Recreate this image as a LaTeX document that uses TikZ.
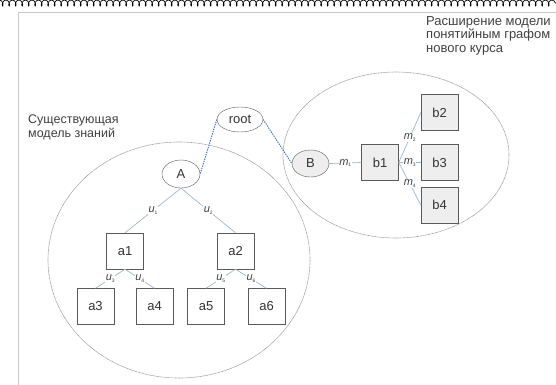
\documentclass[tikz,border=0pt]{standalone}
\usepackage{fontspec}
\setmainfont{Liberation Sans}
\usetikzlibrary{shapes.geometric,decorations.pathmorphing}

\definecolor{nodegray}{HTML}{5A5A5A}
\definecolor{areagray}{HTML}{9A9A9A}
\definecolor{framegray}{HTML}{C8C8C8}
\definecolor{linkblue}{HTML}{9DB7CE}
\definecolor{dotblue}{HTML}{4272B4}
\definecolor{shade}{HTML}{EEEEEE}

\newcommand{\wlabel}[2]{\textit{#1}{\fontsize{5}{5}\selectfont\raisebox{-1.5pt}{#2}}}

\tikzset{
  box/.style={rectangle,draw=nodegray,fill=white,minimum width=37pt,minimum height=36pt,inner sep=0pt},
  oval/.style={ellipse,draw=nodegray,fill=white,inner sep=0pt},
  link/.style={draw=linkblue,line width=0.7pt},
  weight/.style={fill=white,inner sep=0.6pt,font=\fontsize{11}{11}\selectfont,text=black!75},
  bridge/.style={draw=dotblue,line width=1pt,dash pattern=on 1.3pt off 1.1pt},
  area/.style={draw=areagray,line width=0.6pt,dash pattern=on 0.9pt off 0.5pt},
  caption/.style={anchor=north west,align=left,inner sep=0pt,font=\fontsize{12.5}{13.5}\selectfont,text=black!75}
}

\begin{document}
\begin{tikzpicture}[x=1pt,y=-1pt]
  \useasboundingbox (0,0) rectangle (556,384);
  \clip (0,0) rectangle (556,384);

  % page edge and frame
  \draw[decorate,decoration={coil,aspect=0.6,segment length=6.5pt,amplitude=3pt},line width=0.7pt] (-4,3) -- (560,3);
  \draw[framegray,line width=0.8pt] (18,390) -- (18,12) -- (560,12);

  % the two regions
  \draw[area] (179,260) ellipse [x radius=131, y radius=118];
  \draw[area] (396,155) ellipse [x radius=113, y radius=83];

  \node[caption] (known) at (28,115) {Существующая\\модель знаний};
  \node[caption,font=\fontsize{13}{13.5}\selectfont] (ext) at (426,16) {Расширение модели\\понятийным графом\\нового курса};

  \begin{scope}[every node/.style={font=\fontsize{13}{13}\selectfont,text=black!80}]
    \node[oval,minimum width=46pt,minimum height=25pt] (root) at (240,119.5) {root};
    \node[oval,minimum width=38pt,minimum height=28pt] (A) at (181,174) {A};
    \node[oval,fill=shade,minimum width=37pt,minimum height=27pt] (B) at (310.5,163.5) {B};

    \node[box] (a1) at (125,251) {a1};
    \node[box] (a2) at (235.5,251) {a2};
    \node[box] (a3) at (95.5,306.5) {a3};
    \node[box] (a4) at (154.5,306.5) {a4};
    \node[box] (a5) at (206,306.5) {a5};
    \node[box] (a6) at (266.5,306.5) {a6};

    \node[box,fill=shade] (b1) at (380,162.5) {b1};
    \node[box,fill=shade] (b2) at (439.5,112.5) {b2};
    \node[box,fill=shade] (b3) at (439.5,162.5) {b3};
    \node[box,fill=shade] (b4) at (439.5,205) {b4};
  \end{scope}

  \draw[bridge] (root.west) -- (A.east);
  \draw[bridge] (root.east) -- (B.west);

  \begin{scope}[every node/.style={weight}]
    \path (A.south)  edge[link] node {\wlabel{u}{1}} (a1.north);
    \path (A.south)  edge[link] node {\wlabel{u}{2}} (a2.north);
    \path (a1.south) edge[link] node {\wlabel{u}{3}} (a3.north);
    \path (a1.south) edge[link] node {\wlabel{u}{4}} (a4.north);
    \path (a2.south) edge[link] node {\wlabel{u}{5}} (a5.north);
    \path (a2.south) edge[link] node {\wlabel{u}{6}} (a6.north);

    \path (B.east)  edge[link] node {\wlabel{m}{1}} (b1.west);
    \path (b1.east) edge[link] node {\wlabel{m}{2}} (b2.west);
    \path (b1.east) edge[link] node {\wlabel{m}{3}} (b3.west);
    \path (b1.east) edge[link] node {\wlabel{m}{4}} (b4.west);
  \end{scope}

\end{tikzpicture}
\end{document}
